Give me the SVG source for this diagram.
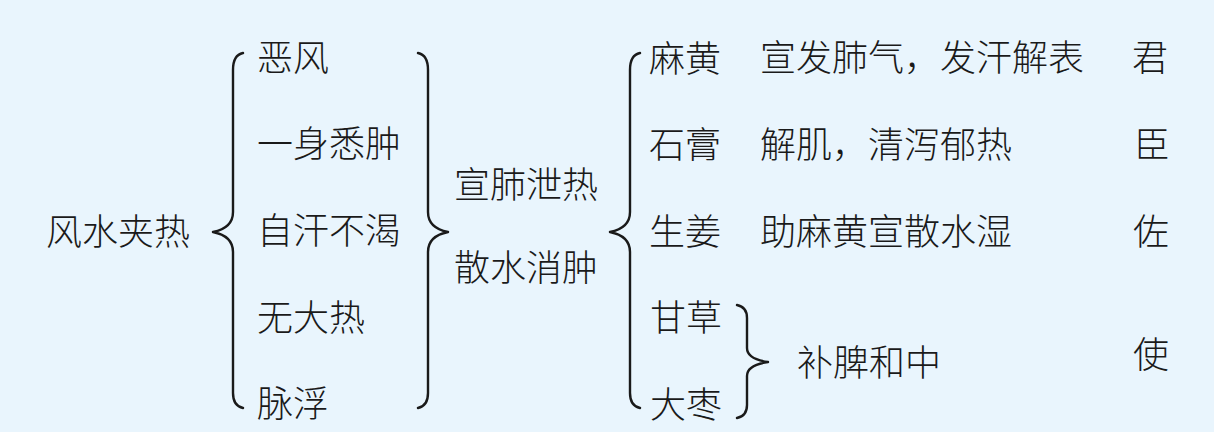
<svg xmlns="http://www.w3.org/2000/svg" width="1214" height="432" viewBox="0 0 1214 432">
<style>
text{font-family:"Noto Sans CJK SC","Noto Sans CJK JP",sans-serif;font-size:36px;fill:#1a1a1a;dominant-baseline:central;font-weight:300}
.brace{fill:none;stroke:#1a1a1a;stroke-width:2.4;stroke-linecap:round;stroke-linejoin:round}
</style>
<rect width="1214" height="432" fill="#e9f5fd"/>
<g id="connectors">
<path class="brace" d="M243,53 Q233,55 233,70 L233,212 Q233,228 213,232 Q233,236 233,252 L233,393 Q233,406 243,408"/>
<path class="brace" d="M418,53 Q428,55 428,70 L428,212 Q428,228 448,232 Q428,236 428,252 L428,393 Q428,406 418,408"/>
<path class="brace" d="M640,53 Q630,55 630,70 L630,212 Q630,228 610,232 Q630,236 630,252 L630,393 Q630,406 640,408"/>
<path class="brace" d="M737,305 Q747,307 747,318 L747,348 Q747,359 768,362 Q747,365 747,376 L747,405 Q747,416 737,418"/>
</g>
<g id="n-root"><text x="46" y="229">风水夹热</text></g>
<g id="n-s1"><text x="257" y="55">恶风</text></g>
<g id="n-s2"><text x="257" y="141">一身悉肿</text></g>
<g id="n-s3"><text x="257" y="228">自汗不渴</text></g>
<g id="n-s4"><text x="257" y="315">无大热</text></g>
<g id="n-s5"><text x="257" y="401">脉浮</text></g>
<g id="n-f1"><text x="454" y="182">宣肺泄热</text></g>
<g id="n-f2"><text x="454" y="265">散水消肿</text></g>
<g id="n-d1"><text x="649" y="56">麻黄</text><text x="760" y="55">宣发肺气，发汗解表</text><text x="1132" y="55">君</text></g>
<g id="n-d2"><text x="649" y="142">石膏</text><text x="760" y="142">解肌，清泻郁热</text><text x="1134" y="142">臣</text></g>
<g id="n-d3"><text x="649" y="229">生姜</text><text x="760" y="229">助麻黄宣散水湿</text><text x="1133" y="229">佐</text></g>
<g id="n-d4"><text x="650" y="315">甘草</text></g>
<g id="n-d5"><text x="650" y="402">大枣</text></g>
<g id="n-e"><text x="797" y="360">补脾和中</text><text x="1133" y="352">使</text></g>
</svg>
